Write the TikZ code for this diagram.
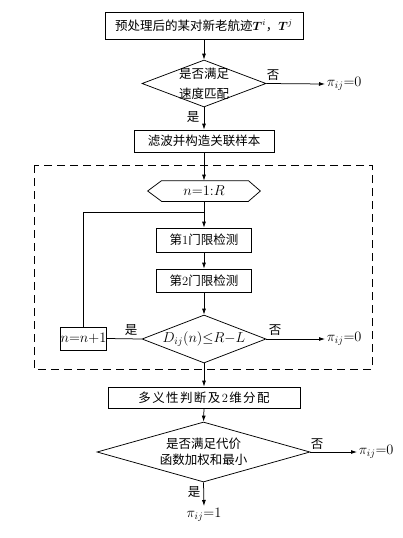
\documentclass[tikz,border=0pt]{standalone}
\usepackage{fontspec}
\usepackage{amsmath}
\usepackage{bm}
\newfontfamily\cjk{Noto Sans CJK SC}
\usetikzlibrary{shapes.geometric,arrows.meta}
\newcommand{\dgt}[1]{{\rmfamily #1}}
\begin{document}
\begin{tikzpicture}[x=1pt,y=-1pt,
  line width=0.75pt,
  font=\cjk\fontsize{12.5}{15}\selectfont,
  box/.style={draw, inner sep=0pt},
  dia/.style={draw, diamond, inner sep=0pt},
  arr/.style={-{Latex[length=6pt,width=4pt]}},
  lbl/.style={inner sep=0pt},
  mth/.style={font=\fontsize{14}{16}\selectfont},
  two/.style={align=center, inner sep=0pt},
  dashbox/.style={draw, dash pattern=on 8pt off 5pt, line width=1pt}]
\useasboundingbox (0,0) rectangle (402,538);

% top box
\node[box, minimum width=198pt, minimum height=27pt] (b1) at (204,25.5)
  {预处理后的某对新老航迹$\bm{T}^i$，$\bm{T}^j$};

% diamond 1
\node[dia, minimum width=124pt, minimum height=47pt] (d1) at (204,83.5) {};
\node[two, font=\cjk\fontsize{12.5}{20}\selectfont] (t1) at (d1) {是否满足\\速度匹配};
\node[lbl] (n1) at (273,75) {否};
\node[lbl] (y1) at (193,117) {是};
\node[lbl, mth, anchor=west, inner sep=1.5pt] (p1) at (325,84) {$\pi_{ij}{=}0$};

% box 2
\node[box, minimum width=140pt, minimum height=22pt] (b2) at (204,141) {滤波并构造关联样本};

% dashed frame
\draw[dashbox] (34,165) rectangle (372,369);

% hexagon
\node[mth, inner sep=0pt, minimum width=112pt, minimum height=20pt] (hx) at (204,191) {$n{=}1{:}R$};
\draw (hx.west) -- ([xshift=14pt]hx.north west) -- ([xshift=-12pt]hx.north east)
  -- (hx.east) -- ([xshift=-12pt]hx.south east) -- ([xshift=14pt]hx.south west) -- cycle;

% threshold boxes
\node[box, minimum width=95pt, minimum height=24pt] (b3) at (204,240) {第\dgt{1}门限检测};
\node[box, minimum width=95pt, minimum height=23pt] (b4) at (204,280.5) {第\dgt{2}门限检测};

% diamond 2
\node[dia, minimum width=124pt, minimum height=48pt] (d2) at (204,339) {};
\node[lbl, mth] (t2) at (d2) {$D_{ij}(n){\leq}R{-}L$};
\node[lbl] (n2) at (275,330) {否};
\node[lbl] (y2) at (131,330.5) {是};
\node[lbl, mth, anchor=west, inner sep=1.5pt] (p2) at (325,339) {$\pi_{ij}{=}0$};

% n=n+1 box
\node[box, mth, minimum width=45pt, minimum height=23pt] (nb) at (83.5,338.5) {$n{=}n{+}1$};
\coordinate (j) at (204,212);

% box 5
\node[box, minimum width=192pt, minimum height=21pt] (b5) at (204,397.5)
  {多\kern1.4pt 义\kern1.4pt 性\kern1.4pt 判\kern1.4pt 断\kern1.4pt 及\kern1.4pt \dgt{2}\kern1.4pt 维\kern1.4pt 分\kern1.4pt 配};

% diamond 3
\node[dia, minimum width=213pt, minimum height=60pt] (d3) at (203.5,452) {};
\node[two, font=\cjk\fontsize{12.5}{16}\selectfont] (t3) at (d3) {是否满足代价\\函数加权和最小};
\node[lbl] (n3) at (317,444.5) {否};
\node[lbl] (y3) at (194,492) {是};
\node[lbl, mth, anchor=west, inner sep=1.5pt] (p3) at (357,452) {$\pi_{ij}{=}0$};
\node[lbl, mth, anchor=north, inner sep=1.5pt] (p4) at (204,506) {$\pi_{ij}{=}1$};

% connectors
\draw[arr] (b1.south) -- (d1.north);
\draw[arr] (d1.east) -- (p1.west);
\draw[arr] (d1.south) -- (b2.north);
\draw[arr] (b2.south) -- (hx.north);
\draw[arr] (hx.south) -- (b3.north);
\draw[arr] (b3.south) -- (b4.north);
\draw[arr] (b4.south) -- (d2.north);
\draw[arr] (d2.east) -- (p2.west);
\draw (d2.west) -- (nb.east);
\draw (nb.north) |- (j);
\draw[arr] (d2.south) -- (b5.north);
\draw[arr] (b5.south) -- (d3.north);
\draw[arr] (d3.east) -- (p3.west);
\draw[arr] (d3.south) -- (p4.north);
\end{tikzpicture}
\end{document}
